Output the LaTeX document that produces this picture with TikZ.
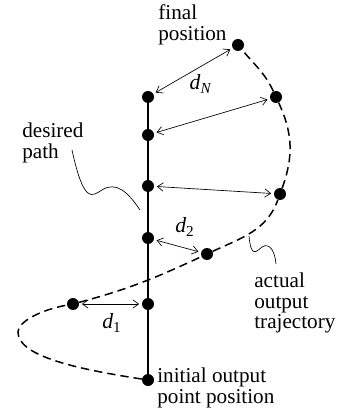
\documentclass[tikz,border=0pt]{standalone}
\usepackage{fontspec}
\setmainfont{Liberation Serif}
\usetikzlibrary{arrows.meta}

\begin{document}
\begin{tikzpicture}[x=0.6pt, y=-0.6pt,
    dot/.style={circle, fill=black, inner sep=0pt, minimum size=7.2pt},
    lbl/.style={align=left, font=\fontsize{12.7}{12.3}\selectfont, inner sep=0pt},
    dlbl/.style={font=\fontsize{13}{13}\selectfont, inner sep=0pt},
    dist/.style={{Straight Barb[length=3.5pt,width=5pt]}-{Straight Barb[length=3.5pt,width=5pt]},
      line width=0.4pt, shorten <=1.5pt, shorten >=1.5pt},
    traj/.style={dash pattern=on 5pt off 3pt, line width=0.9pt},
    ptr/.style={line width=0.4pt}]
  \useasboundingbox (0,0) rectangle (339,414);
  % points on the desired path
  \node[dot] (p0) at (148,380) {};
  \node[dot] (p1) at (148,304) {};
  \node[dot] (p2) at (148,238) {};
  \node[dot] (p3) at (148,186) {};
  \node[dot] (p4) at (148,135) {};
  \node[dot] (p5) at (148,97) {};
  % points on the actual trajectory
  \node[dot] (q1) at (73,304) {};
  \node[dot] (q2) at (207,254) {};
  \node[dot] (q3) at (280,194) {};
  \node[dot] (q4) at (276,97) {};
  \node[dot] (q5) at (238,45) {};
  \coordinate (lm) at (18,332);
  \draw[line width=1.2pt] (p0) -- (p5);
  \draw[traj] (p0) .. controls (70,368) and (18,355) .. (lm)
    .. controls (18,322) and (40,310) .. (q1)
    to[out=15, in=205] (q2) to[out=25, in=250] (q3)
    to[out=70, in=-65] (q4) to[out=115, in=-50] (q5);
  % distances
  \draw[dist] (p1) -- (q1);
  \draw[dist] (p2) -- (q2);
  \draw[dist] (p3) -- (q3);
  \draw[dist] (p4) -- (q4);
  \draw[dist] (p5) -- (q5);
  \node[dlbl] (dN) at (201,84) {\textit{d}\textsubscript{\textit{N}}};
  \node[dlbl] (d2) at (185,227) {\textit{d}\textsubscript{2}};
  \node[dlbl] (d1) at (112,323) {\textit{d}\textsubscript{1}};
  % labels
  \node[lbl, anchor=north west] (fin) at (158,4.5) {final\\position};
  \node[lbl, anchor=north west] (des) at (22,122.5) {desired\\path};
  \node[lbl, anchor=north west] (act) at (254,272.5) {actual\\output\\trajectory};
  \node[lbl, anchor=north west] (ini) at (157,367.5) {initial output\\point position};
  \coordinate (dp0) at (72,150);
  \coordinate (dp1) at (140,210);
  \coordinate (ao0) at (249,236);
  \coordinate (ao1) at (276,264);
  \draw[ptr] (dp0) .. controls (84,205) and (92,196) .. (102,190)
    .. controls (116,181) and (128,192) .. (dp1);
  \draw[ptr] (ao0) .. controls (251,258) and (256,252) .. (262,247)
    .. controls (270,242) and (275,252) .. (ao1);
\end{tikzpicture}
\end{document}
